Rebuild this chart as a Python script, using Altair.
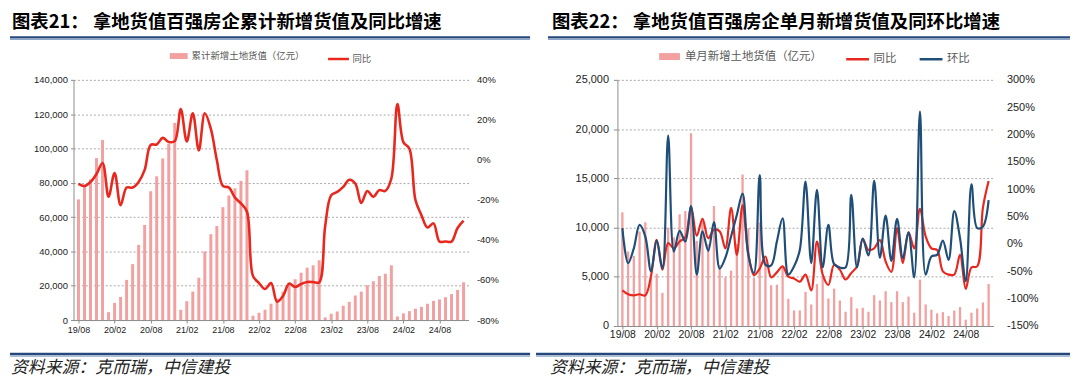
import altair as alt
import pandas as pd

# ---------------- data ----------------
months = [
    "19/08", "19/09", "19/10", "19/11", "19/12",
    "20/01", "20/02", "20/03", "20/04", "20/05", "20/06", "20/07", "20/08", "20/09", "20/10", "20/11", "20/12",
    "21/01", "21/02", "21/03", "21/04", "21/05", "21/06", "21/07", "21/08", "21/09", "21/10", "21/11", "21/12",
    "22/01", "22/02", "22/03", "22/04", "22/05", "22/06", "22/07", "22/08", "22/09", "22/10", "22/11", "22/12",
    "23/01", "23/02", "23/03", "23/04", "23/05", "23/06", "23/07", "23/08", "23/09", "23/10", "23/11", "23/12",
    "24/01", "24/02", "24/03", "24/04", "24/05", "24/06", "24/07", "24/08", "24/09", "24/10", "24/11", "24/12",
]

# chart 21: cumulative new land value (100m yuan) and YoY (%)
left_cum = [
    70300, 77600, 82000, 94400, 105000,
    4600, 10000, 13500, 23400, 32600, 43800, 55400, 75100, 83800, 94200, 102700, 114900,
    6000, 11000, 16600, 24700, 40000, 50000, 54800, 65800, 72600, 76800, 81100, 87300,
    2500, 4250, 6000, 9500, 12500, 16500, 21800, 23800, 27600, 30500, 31900, 34800,
    1500, 3700, 5000, 8300, 10600, 14300, 16600, 20300, 22600, 25700, 27000, 31900,
    2100, 3900, 5200, 6600, 7700, 9500, 11200, 12000, 13300, 15100, 17600, 22000,
]
left_yoy = [
    -12, -13, -11, -7, -1.5,
    -18.4, -6.5, -22.6, -13.8, -13.8, -11, -5, 7.5, 7.7, 11, 9, 9.4,
    25.4, 9.2, 23.3, 4.7, 23.3, 15.5, -0.2, -13, -13.8, -18.8, -21.7, -25.9,
    -58, -61.5, -64.5, -61.5, -70.8, -68, -61.8, -63.5, -62, -61, -61, -61.2,
    -33, -17.6, -16, -13.5, -9.9, -11.8, -21.5, -15.5, -18.4, -15.1, -15.5, -9.3,
    27.9, 8.9, 5.6, -20, -27.6, -33.8, -31.7, -40.8, -40.8, -40.8, -34, -30.3,
]

# chart 22: monthly new land value (100m yuan), YoY (%) and MoM (%)
right_month = [
    11540, 7570, 7130, 9600, 10530,
    4900, 5300, 3365, 9990, 8990, 11340, 11680, 19580, 8650, 10940, 8300, 12180,
    6200, 4950, 5620, 8300, 15380, 9930, 4880, 10500, 6800, 4140, 4200, 6060,
    2760, 1580, 1580, 3470, 2190, 4270, 4950, 2790, 3800, 2590, 1450, 2930,
    1780, 1850, 1450, 3130, 2600, 3530, 2420, 3530, 2420, 2990, 1350, 4710,
    2190, 1650, 1280, 1410, 1010, 1580, 1920, 640, 1350, 1780, 2390, 4270,
]
right_yoy = [
    -85, -92, -94, -92, -94,
    -59, 7.5, -47, 1.5, -8, 4.5, 12, 68, 15, 46, 10.5, 26,
    23, -8, 66, -20, 71, -17, -57, -45, -23, -61, -52, -41,
    -60, -63, -69, -56, -85, 4.5, -56, -75, -38, -47, -65, -53,
    -41, 9, -11, -8, 7, -32, -51, 29, -35, 21, -8, 64,
    13.6, -8, -11, -50, -56, -56, -20, -82, -43, -41, 66, 115,
]
right_mom = [
    29, -35, -8, 35, 14,
    -50, 6, -45, 198, -14, 24, 4.5, 69, -56, 23, -12.5, 40,
    -45, -25, 14, 53, 92, -20, -53, 126, -38, -39, 4.5, 47,
    -56, -41, -11, 114, -35, 99, -43, 35, -37, -43, -43, 90,
    -43, 10, -21, 116, -25, 52, -31, 46, -26, 21, -61, 242,
    -56, -23, -20, 6, -29, 60, 10.5, -68, 109, 29, 32, 80,
]

title_left = "图表21：  拿地货值百强房企累计新增货值及同比增速"
title_right = "图表22：  拿地货值百强房企单月新增货值及同环比增速"
source_text = "资料来源：克而瑞，中信建投"
bar_name_left = "累计新增土地货值（亿元）"
bar_name_right = "单月新增土地货值（亿元）"
line_names = ["同比", "环比"]

left_ticks = [0, 20000, 40000, 60000, 80000, 100000, 120000, 140000]
left_pct_ticks = [-80, -60, -40, -20, 0, 20, 40]
right_ticks = [0, 5000, 10000, 15000, 20000, 25000]
right_pct_ticks = [-150, -100, -50, 0, 50, 100, 150, 200, 250, 300]

# ---------------- style ----------------
FONT = "Liberation Sans, Arial, sans-serif"
CJK = "Noto Sans CJK SC"
PINK = "#F3A0A0"
RED = "#E8281E"
BLUE = "#1F4E79"
NAVY = "#24497A"
LIGHTNAVY = "#8EA6CC"
GRID = "#A8A8A8"
AXIS = "#8C8C8C"
RECT_PATH = "M-1,-0.33H1V0.33H-1Z"

n = len(months)
label_expr = "[" + ",".join("'" + m + "'" for m in months) + "][datum.value]"


def xenc(fs, pad):
    return alt.X(
        "i:Q",
        scale=alt.Scale(domain=[0, n - 1], nice=False, zero=False),
        axis=alt.Axis(values=list(range(0, n, 6)), labelExpr=label_expr, title=None,
                      grid=False, domainColor=AXIS, tickColor=AXIS, tickSize=3,
                      labelFont=FONT, labelFontSize=fs, labelColor="#222222",
                      labelPadding=pad, labelAngle=0, labelOverlap=False),
    )


def decorations(title, tx, rule_x0, rule_x1, foot_x0, src_x):
    one = pd.DataFrame({"t": [title]})
    src = pd.DataFrame({"t": [source_text]})
    ttl = alt.Chart(one).mark_text(align="left", baseline="middle", font=CJK, fontSize=18.5,
                                   fontWeight="bold", color="#000000").encode(
        x=alt.value(tx), y=alt.value(-58.2), text="t:N")
    r1 = alt.Chart(one).mark_rule(color=NAVY, strokeWidth=2.5).encode(
        x=alt.value(rule_x0), x2=alt.value(rule_x1), y=alt.value(-42.8))
    r2 = alt.Chart(one).mark_rule(color=LIGHTNAVY, strokeWidth=1.2).encode(
        x=alt.value(rule_x0), x2=alt.value(rule_x1), y=alt.value(-40.8))
    f1 = alt.Chart(one).mark_rule(color=NAVY, strokeWidth=2.5).encode(
        x=alt.value(foot_x0), x2=alt.value(rule_x1), y=alt.value(276.3))
    f2 = alt.Chart(one).mark_rule(color=LIGHTNAVY, strokeWidth=1.2).encode(
        x=alt.value(foot_x0), x2=alt.value(rule_x1), y=alt.value(278.3))
    st = alt.Chart(src).mark_text(align="left", baseline="middle", font=CJK, fontSize=17,
                                  fontStyle="italic", color="#222222").encode(
        x=alt.value(src_x), y=alt.value(290.5), text="t:N")
    return [ttl, r1, r2, f1, f2, st]


# ---------------- left panel ----------------
dfL = pd.DataFrame({"i": list(range(n)), "m": months, "cum": left_cum, "yoy": left_yoy,
                    "sb": bar_name_left, "sl": line_names[0]})

barsL = alt.Chart(dfL).mark_bar(size=3).encode(
    x=xenc(9, 3),
    y=alt.Y("cum:Q", scale=alt.Scale(domain=[0, 140000], nice=False),
            axis=alt.Axis(values=left_ticks, format=",d", title=None, grid=True, gridColor=GRID,
                          gridDash=[2, 2], gridWidth=1, domainColor=AXIS, tickColor=AXIS, tickSize=3,
                          labelFont=FONT, labelFontSize=9.5, labelColor="#222222", labelPadding=3)),
    color=alt.Color("sb:N", scale=alt.Scale(domain=[bar_name_left], range=[PINK]),
                    legend=alt.Legend(orient="none", legendX=97, legendY=-33, direction="horizontal",
                                      title=None, symbolType=RECT_PATH, symbolSize=324,
                                      symbolStrokeWidth=0, labelFont=CJK, labelFontSize=9.5,
                                      labelColor="#595959", labelOffset=4, padding=0)),
)

lineL = alt.Chart(dfL).mark_line(interpolate="catmull-rom", strokeWidth=2.6).encode(
    x=xenc(9, 3),
    y=alt.Y("yoy:Q", scale=alt.Scale(domain=[-80, 40], nice=False),
            axis=alt.Axis(orient="right", values=left_pct_ticks, labelExpr="datum.value + '%'",
                          title=None, grid=False, domain=False, ticks=False, labelPadding=8,
                          labelFont=FONT, labelFontSize=9.5, labelColor="#222222")),
    stroke=alt.Stroke("sl:N", scale=alt.Scale(domain=[line_names[0]], range=[RED]),
                      legend=alt.Legend(orient="none", legendX=255, legendY=-33, direction="horizontal",
                                        title=None, symbolType="stroke", symbolSize=441,
                                        symbolStrokeWidth=2.5, labelFont=CJK, labelFontSize=9.5,
                                        labelColor="#595959", labelOffset=2, padding=0)),
)

left = alt.layer(barsL, lineL, *decorations(title_left, -62, -64, 460, -64, -63)).resolve_scale(
    y="independent").properties(width=398, height=242)

# ---------------- right panel ----------------
dfR = pd.DataFrame({"i": list(range(n)), "m": months, "v": right_month, "sb": bar_name_right})
dfY = pd.DataFrame({"i": list(range(n)), "p": right_yoy, "s": line_names[0]})
dfM = pd.DataFrame({"i": list(range(n)), "p": right_mom, "s": line_names[1]})

barsR = alt.Chart(dfR).mark_bar(size=2.3).encode(
    x=xenc(10.5, 1),
    y=alt.Y("v:Q", scale=alt.Scale(domain=[0, 25000], nice=False),
            axis=alt.Axis(values=right_ticks, format=",d", title=None, grid=True, gridColor=GRID,
                          gridDash=[2, 2], gridWidth=1, domainColor=AXIS, tickColor=AXIS, tickSize=4,
                          labelFont=FONT, labelFontSize=11, labelColor="#222222", labelPadding=5)),
    color=alt.Color("sb:N", scale=alt.Scale(domain=[bar_name_right], range=[PINK]),
                    legend=alt.Legend(orient="none", legendX=42, legendY=-34, direction="horizontal",
                                      title=None, symbolType=RECT_PATH, symbolSize=441,
                                      symbolStrokeWidth=0, labelFont=CJK, labelFontSize=11.5,
                                      labelColor="#595959", labelOffset=5, padding=0)),
)

pct_axis_r = alt.Axis(orient="right", values=right_pct_ticks, labelExpr="datum.value + '%'",
                      title=None, grid=False, domain=False, ticks=False, labelPadding=13,
                      labelFont=FONT, labelFontSize=11, labelColor="#222222")
stroke_r = alt.Stroke("s:N", scale=alt.Scale(domain=line_names, range=[RED, BLUE]),
                      legend=alt.Legend(orient="none", legendX=229, legendY=-34, direction="horizontal",
                                        title=None, symbolType="stroke", symbolSize=529,
                                        symbolStrokeWidth=2.5, labelFont=CJK, labelFontSize=11.5,
                                        labelColor="#595959", labelOffset=3, columnPadding=18,
                                        padding=0))

lineY = alt.Chart(dfY).mark_line(interpolate="catmull-rom", strokeWidth=2.2).encode(
    x=xenc(10.5, 1),
    y=alt.Y("p:Q", scale=alt.Scale(domain=[-150, 300], nice=False), axis=pct_axis_r),
    stroke=stroke_r)
lineM = alt.Chart(dfM).mark_line(interpolate="catmull-rom", strokeWidth=2.2).encode(
    x=xenc(10.5, 1),
    y=alt.Y("p:Q", scale=alt.Scale(domain=[-150, 300], nice=False), axis=pct_axis_r),
    stroke=stroke_r)

right = alt.layer(barsR, alt.layer(lineY, lineM), *decorations(title_right, -66, -70, 456, -82, -68)).resolve_scale(
    y="independent").properties(width=379, height=248)

chart = alt.hconcat(left, right, spacing=2).resolve_scale(
    color="independent", stroke="independent", x="independent"
).resolve_legend(color="independent", stroke="independent").properties(
    padding={"left": 0, "top": 3, "right": 0, "bottom": 0}
).configure_view(strokeWidth=0)

chart.save("out.html", embed_options={"renderer": "svg", "actions": False})
